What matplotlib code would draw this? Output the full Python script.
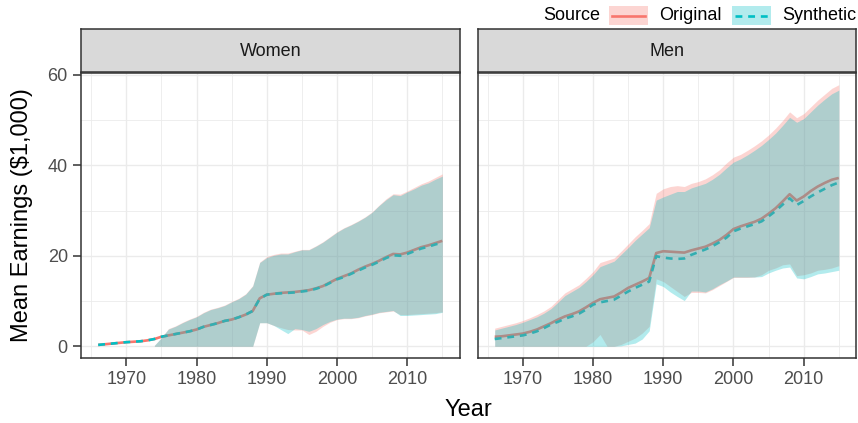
import numpy as np
import matplotlib
matplotlib.use("Agg")
import matplotlib.pyplot as plt
from matplotlib.patches import Rectangle
from matplotlib.lines import Line2D

plt.rcParams["font.family"] = ["Liberation Sans", "DejaVu Sans"]

YEARS = list(range(1966, 2016))
NA = np.nan

# ── Women ─────────────────────────────────────────────────────────────────────
women_orig_mean = [
    0.3, 0.45, 0.6, 0.75, 0.9, 1.0, 1.1, 1.3, 1.6, 2.1,
    2.4, 2.7, 3.0, 3.3, 3.7, 4.3, 4.7, 5.1, 5.6, 5.9,
    6.4, 7.0, 7.8, 10.6, 11.4, 11.6, 11.8, 11.9, 12.0, 12.2,
    12.4, 12.8, 13.3, 14.1, 14.9, 15.5, 16.1, 16.9, 17.6, 18.2,
    18.9, 19.7, 20.4, 20.3, 20.7, 21.3, 21.9, 22.3, 22.8, 23.3,
]
women_syn_mean = [
    0.3, 0.45, 0.6, 0.75, 0.9, 1.0, 1.1, 1.3, 1.6, 2.1,
    2.4, 2.7, 3.0, 3.3, 3.7, 4.3, 4.7, 5.1, 5.6, 5.9,
    6.4, 7.0, 7.8, 10.5, 11.4, 11.6, 11.7, 11.8, 11.9, 12.1,
    12.3, 12.7, 13.2, 14.0, 14.8, 15.3, 16.0, 16.7, 17.4, 18.0,
    18.7, 19.5, 20.1, 20.0, 20.4, 21.0, 21.6, 22.0, 22.5, 22.9,
]
women_orig_upper = [
    NA, NA, NA, NA, NA, NA, NA, NA, 0.2, 1.9,
    3.9, 4.5, 5.3, 6.0, 6.6, 7.5, 8.2, 8.6, 9.1, 9.9,
    10.6, 11.6, 13.4, 18.6, 19.8, 20.3, 20.6, 20.6, 21.0, 21.4,
    21.4, 22.2, 23.1, 24.2, 25.3, 26.2, 26.9, 27.7, 28.6, 29.7,
    31.2, 32.6, 33.7, 33.6, 34.3, 35.1, 35.9, 36.5, 37.3, 38.1,
]
women_syn_upper = [
    NA, NA, NA, NA, NA, NA, NA, NA, 0.2, 1.9,
    3.8, 4.4, 5.2, 5.9, 6.5, 7.4, 8.1, 8.5, 9.0, 9.8,
    10.5, 11.5, 13.3, 18.5, 19.6, 20.1, 20.4, 20.4, 20.9, 21.3,
    21.3, 22.1, 23.0, 24.1, 25.2, 26.1, 26.8, 27.6, 28.5, 29.6,
    31.1, 32.4, 33.5, 33.3, 34.1, 34.8, 35.6, 36.1, 36.9, 37.6,
]
women_orig_lower = [
    NA, NA, NA, NA, NA, NA, NA, NA, 0.0, 0.0,
    0.0, 0.0, 0.0, 0.0, 0.0, 0.0, 0.0, 0.0, 0.0, 0.0,
    0.0, 0.0, 0.0, 5.2, 5.2, 4.6, 4.1, 3.7, 3.6, 3.6,
    2.6, 3.3, 4.4, 5.3, 5.9, 6.1, 6.1, 6.3, 6.7, 7.0,
    7.4, 7.6, 7.8, 7.0, 7.0, 7.1, 7.2, 7.3, 7.4, 7.6,
]
women_syn_lower = [
    NA, NA, NA, NA, NA, NA, NA, NA, 0.0, 0.0,
    0.0, 0.0, 0.0, 0.0, 0.0, 0.0, 0.0, 0.0, 0.0, 0.0,
    0.0, 0.0, 0.0, 5.2, 5.2, 4.6, 3.7, 2.8, 3.9, 3.7,
    3.3, 3.9, 4.8, 5.5, 6.0, 6.2, 6.2, 6.4, 6.8, 7.1,
    7.5, 7.7, 7.9, 6.8, 6.8, 6.9, 7.0, 7.1, 7.2, 7.5,
]

# ── Men ───────────────────────────────────────────────────────────────────────
men_orig_mean = [
    2.1, 2.2, 2.4, 2.6, 2.8, 3.2, 3.7, 4.4, 5.1, 5.9,
    6.6, 7.1, 7.7, 8.6, 9.6, 10.4, 10.7, 11.0, 11.9, 12.9,
    13.6, 14.3, 15.1, 20.6, 21.0, 20.9, 20.8, 20.7, 21.2, 21.6,
    22.0, 22.7, 23.5, 24.6, 25.9, 26.5, 27.0, 27.5, 28.2, 29.3,
    30.5, 32.0, 33.6, 32.2, 33.1, 34.3, 35.3, 36.1, 36.8, 37.2,
]
men_syn_mean = [
    1.6, 1.8, 2.0, 2.2, 2.4, 2.8, 3.3, 4.0, 4.8, 5.4,
    6.1, 6.6, 7.2, 8.1, 9.2, 9.7, 10.0, 10.3, 11.2, 12.1,
    12.9, 13.6, 14.3, 19.9, 19.6, 19.4, 19.3, 19.4, 20.2, 20.8,
    21.4, 22.1, 23.0, 24.0, 25.4, 26.0, 26.5, 27.0, 27.6, 28.7,
    29.9, 31.3, 32.7, 31.2, 32.1, 33.1, 34.0, 34.8, 35.6, 36.2,
]
men_orig_upper = [
    4.0, 4.4, 4.8, 5.2, 5.7, 6.3, 7.0, 7.8, 8.8, 10.3,
    11.8, 12.7, 13.6, 15.0, 16.5, 18.5, 19.0, 19.5, 21.0, 22.6,
    24.2, 25.6, 27.1, 33.8, 34.8, 35.3, 35.5, 35.3, 36.0, 36.4,
    37.0, 37.9, 39.0, 40.5, 41.8, 42.4, 43.3, 44.3, 45.4, 46.7,
    48.2, 49.9, 51.8, 50.5, 51.4, 52.9, 54.4, 55.7, 57.0, 57.8,
]
men_syn_upper = [
    3.6, 4.0, 4.4, 4.8, 5.3, 5.9, 6.5, 7.3, 8.3, 9.7,
    11.2, 12.1, 13.0, 14.3, 15.8, 17.6, 18.2, 18.8, 20.3, 21.8,
    23.4, 24.8, 26.2, 32.3, 33.0, 33.6, 34.2, 34.2, 35.0, 35.5,
    36.0, 36.9, 38.0, 39.4, 40.7, 41.4, 42.3, 43.3, 44.4, 45.7,
    47.1, 48.8, 50.6, 49.5, 50.3, 51.8, 53.3, 54.6, 55.8, 56.6,
]
men_orig_lower = [
    0.0, 0.0, 0.0, 0.0, 0.0, 0.0, 0.0, 0.0, 0.0, 0.0,
    0.0, 0.0, 0.0, 0.0, 1.0, 2.6, 0.0, 0.0, 0.4, 1.1,
    1.8, 2.9, 4.4, 14.9, 14.3, 13.2, 12.1, 11.0, 11.9, 11.9,
    11.8, 12.5, 13.4, 14.3, 15.2, 15.2, 15.2, 15.3, 15.8, 16.8,
    17.3, 18.0, 18.2, 15.6, 15.8, 16.2, 16.8, 17.0, 17.3, 17.8,
]
men_syn_lower = [
    0.0, 0.0, 0.0, 0.0, 0.0, 0.0, 0.0, 0.0, 0.0, 0.0,
    0.0, 0.0, 0.0, 0.0, 0.0, 0.0, 0.0, 0.0, 0.1, 0.4,
    0.7, 1.6, 3.4, 13.8, 13.2, 12.0, 11.0, 10.1, 12.2, 12.2,
    12.0, 12.7, 13.6, 14.4, 15.3, 15.3, 15.3, 15.3, 15.4, 16.2,
    16.8, 17.3, 17.5, 15.1, 14.9, 15.4, 16.0, 16.2, 16.5, 16.8,
]

PANELS = ["Women", "Men"]
SOURCES = ["Original", "Synthetic"]
X_TICKS = [1970, 1980, 1990, 2000, 2010]
Y_TICKS = [0, 20, 40, 60]

RED = "#F8766D"
CYAN = "#00BFC4"
FILL_ALPHA = 0.3
LINE_W = 1.9
DASHES = (2.6, 2.2)

W, H = 858, 423
fig = plt.figure(figsize=(W / 100, H / 100), dpi=100)


def fx(px):
    return px / W


def fy(py):
    return 1 - py / H


def draw_panel(ax, orig, syn):
    yr = np.array(YEARS)
    # lines sit under the ribbons, like the geom order in the original
    ax.plot(yr, orig["mean"], color=RED, lw=LINE_W, solid_capstyle="butt", zorder=2)
    ax.plot(yr, syn["mean"], color=CYAN, lw=LINE_W, dashes=DASHES, zorder=2.1)
    ax.fill_between(yr, orig["lower"], orig["upper"], color=RED,
                    alpha=FILL_ALPHA, lw=0, zorder=3)
    ax.fill_between(yr, syn["lower"], syn["upper"], color=CYAN,
                    alpha=FILL_ALPHA, lw=0, zorder=3.1)

    ax.set_xlim(1963.55, 2017.45)
    ax.set_ylim(-2.66, 60.5)
    ax.set_xticks(X_TICKS)
    ax.set_xticks([1965, 1975, 1985, 1995, 2005, 2015], minor=True)
    ax.set_yticks(Y_TICKS)
    ax.set_yticks([10, 30, 50], minor=True)
    ax.grid(which="major", color="#EBEBEB", lw=1.0, zorder=0)
    ax.grid(which="minor", color="#EBEBEB", lw=0.6, zorder=0)
    ax.set_axisbelow(True)
    ax.tick_params(which="major", length=5.5, width=1.1, color="#333333",
                   labelcolor="#4D4D4D", labelsize=13, pad=4)
    ax.tick_params(which="minor", length=0)
    for sp in ax.spines.values():
        sp.set_color("#333333")
        sp.set_linewidth(1.1)


panel_data = {
    "Women": (
        {"mean": women_orig_mean, "lower": women_orig_lower, "upper": women_orig_upper},
        {"mean": women_syn_mean, "lower": women_syn_lower, "upper": women_syn_upper},
    ),
    "Men": (
        {"mean": men_orig_mean, "lower": men_orig_lower, "upper": men_orig_upper},
        {"mean": men_syn_mean, "lower": men_syn_lower, "upper": men_syn_upper},
    ),
}

lefts = [81, 477.5]
pw = 378.5
top, bottom, strip_top = 72.5, 358.3, 29.5

for name, left in zip(PANELS, lefts):
    ax = fig.add_axes([fx(left), fy(bottom), fx(pw), (bottom - top) / H])
    orig, syn = panel_data[name]
    draw_panel(ax, orig, syn)
    if left != lefts[0]:
        ax.tick_params(labelleft=False, left=False)

    # facet strip
    sax = fig.add_axes([fx(left), fy(top), fx(pw), (top - strip_top) / H])
    sax.set_facecolor("#D9D9D9")
    sax.set_xticks([])
    sax.set_yticks([])
    for sp in sax.spines.values():
        sp.set_color("#333333")
        sp.set_linewidth(1.1)
    sax.text(0.5, 0.5, name, ha="center", va="center", fontsize=13,
             color="#1A1A1A", transform=sax.transAxes)

fig.text(fx(22), fy((top + bottom) / 2), "Mean Earnings ($1,000)", rotation=90,
         ha="center", va="center", fontsize=17)
fig.text(fx((lefts[0] + lefts[1] + pw) / 2), fy(410), "Year", ha="center",
         va="center", fontsize=17)

# ── legend (top right, horizontal, title on the left) ────────────────────────
fig.text(fx(543), fy(16), "Source", ha="left", va="center", fontsize=13)
key_specs = [(609, RED, None, "Original"), (732, CYAN, DASHES, "Synthetic")]
for kx, col, dash, label in key_specs:
    fig.add_artist(Rectangle((fx(kx), fy(25.5)), fx(39), 19.5 / H,
                             transform=fig.transFigure, color=col,
                             alpha=FILL_ALPHA, lw=0))
    ln = Line2D([fx(kx + 3), fx(kx + 36)], [fy(16), fy(16)],
                transform=fig.transFigure, color=col, lw=LINE_W)
    if dash:
        ln.set_dashes(dash)
    fig.add_artist(ln)
    fig.text(fx(kx + 50), fy(16), label, ha="left", va="center", fontsize=13)

fig.savefig("out.png", dpi=100)
